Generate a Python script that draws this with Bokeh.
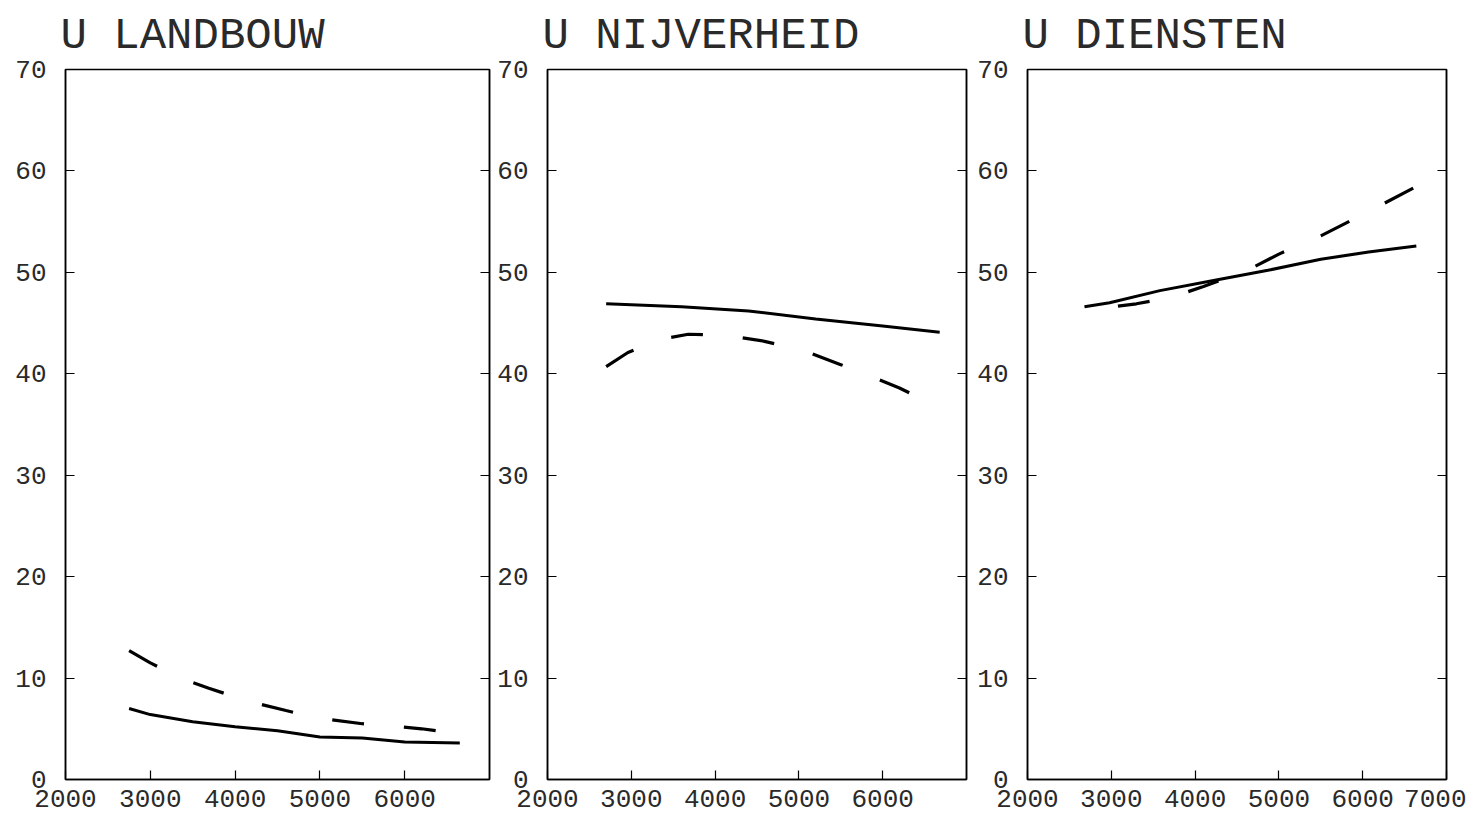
from bokeh.plotting import figure
from bokeh.layouts import row
from bokeh.models import LinearAxis, FixedTicker, Range1d
from bokeh.embed import file_html
from bokeh.resources import INLINE

titles = ["U LANDBOUW", "U NIJVERHEID", "U DIENSTEN"]

# Panel 1: U LANDBOUW
land_solid_x = [2750, 3000, 3500, 4000, 4500, 5000, 5500, 6000, 6650]
land_solid_y = [7.0, 6.4, 5.7, 5.2, 4.8, 4.2, 4.1, 3.7, 3.6]
land_dash_x = [2750, 3000, 3380, 3690, 4160, 4600, 4950, 5500, 5950, 6200, 6650]
land_dash_y = [12.7, 11.5, 9.9, 9.0, 7.7, 6.8, 6.1, 5.5, 5.2, 5.0, 4.5]

# Panel 2: U NIJVERHEID
nijv_solid_x = [2700, 3000, 3600, 4400, 5200, 6000, 6680]
nijv_solid_y = [46.9, 46.8, 46.6, 46.2, 45.4, 44.7, 44.1]
nijv_dash_x = [2700, 2960, 3350, 3680, 4130, 4590, 5050, 5500, 5960, 6200, 6670]
nijv_dash_y = [40.7, 42.1, 43.4, 43.9, 43.8, 43.2, 42.3, 40.9, 39.4, 38.6, 36.7]

# Panel 3: U DIENSTEN
dien_solid_x = [2680, 2980, 3580, 4220, 4870, 5500, 6070, 6640]
dien_solid_y = [46.6, 47.0, 48.2, 49.2, 50.2, 51.3, 52.0, 52.6]
dien_dash_x = [2700, 3300, 3700, 4100, 4600, 5000, 5500, 6000, 6650]
dien_dash_y = [46.3, 46.9, 47.5, 48.6, 50.1, 51.8, 53.6, 55.7, 58.5]

x_ticks_short = [2000, 3000, 4000, 5000, 6000]
x_ticks_full = [2000, 3000, 4000, 5000, 6000, 7000]
y_ticks = [0, 10, 20, 30, 40, 50, 60, 70]

FONT = "Liberation Mono"
TXT = "#2a2a2a"
FRAME_H = 710


def make_panel(title, sx, sy, dx, dy, xticks, border_left, border_right, frame_w,
               dash_offset):
    p = figure(width=border_left + frame_w + border_right, height=69 + FRAME_H + 35,
               x_range=Range1d(2000, 7000), y_range=Range1d(0, 70),
               output_backend="svg", toolbar_location=None,
               min_border_left=border_left, min_border_right=border_right,
               min_border_top=69, min_border_bottom=35,
               x_axis_type=None, y_axis_type=None)
    p.grid.visible = False
    p.outline_line_color = "black"
    p.outline_line_width = 1.5
    p.background_fill_color = "white"
    p.border_fill_color = "white"

    p.title.text = title
    p.title.text_font = FONT
    p.title.text_font_size = "44px"
    p.title.text_font_style = "normal"
    p.title.text_color = TXT
    p.title.align = "left"
    p.title.standoff = 17
    p.title.offset = -5

    xa = LinearAxis(ticker=FixedTicker(ticks=xticks))
    xa.major_tick_in = 9
    xa.major_tick_out = 0
    xa.minor_tick_line_color = None
    xa.axis_line_width = 1.5
    xa.major_tick_line_width = 1.2
    xa.major_label_text_font = FONT
    xa.major_label_text_font_size = "26px"
    xa.major_label_text_color = TXT
    xa.major_label_standoff = 10
    p.add_layout(xa, "below")

    ya = LinearAxis(ticker=FixedTicker(ticks=y_ticks))
    ya.major_tick_in = 9
    ya.major_tick_out = 0
    ya.minor_tick_line_color = None
    ya.axis_line_width = 1.5
    ya.major_tick_line_width = 1.2
    ya.major_label_text_font = FONT
    ya.major_label_text_font_size = "26px"
    ya.major_label_text_color = TXT
    ya.major_label_standoff = 19
    p.add_layout(ya, "left")

    ra = LinearAxis(ticker=FixedTicker(ticks=y_ticks))
    ra.major_tick_in = 9
    ra.major_tick_out = 0
    ra.minor_tick_line_color = None
    ra.axis_line_width = 1.5
    ra.major_tick_line_width = 1.2
    ra.major_label_text_font_size = "1px"
    ra.major_label_text_color = None
    ra.major_label_standoff = 0
    p.add_layout(ra, "right")

    p.line(sx, sy, line_color="black", line_width=3)
    p.line(dx, dy, line_color="black", line_width=3.2, line_dash="32 40",
           line_dash_offset=dash_offset)
    return p


p1 = make_panel(titles[0], land_solid_x, land_solid_y, land_dash_x, land_dash_y,
                x_ticks_short, 65, 5, 424, 0)
p2 = make_panel(titles[1], nijv_solid_x, nijv_solid_y, nijv_dash_x, nijv_dash_y,
                x_ticks_short, 53, 5, 419, 0)
p3 = make_panel(titles[2], dien_solid_x, dien_solid_y, dien_dash_x, dien_dash_y,
                x_ticks_full, 56, 20, 419, 40)

layout = row(p1, p2, p3, spacing=0)
open("out.html", "w").write(file_html(layout, INLINE))
